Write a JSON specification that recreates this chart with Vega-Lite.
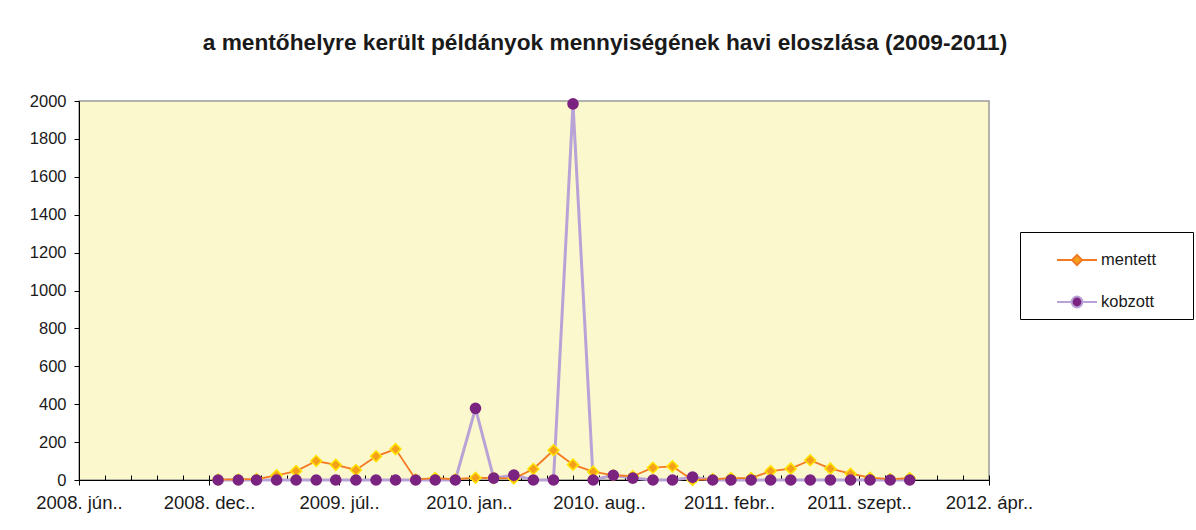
{
  "$schema": "https://vega.github.io/schema/vega-lite/v6.json",
  "width": 910,
  "height": 379,
  "autosize": {"type": "none"},
  "padding": {"left": 79, "top": 101, "right": 207, "bottom": 50},
  "background": "white",
  "view": {"fill": "#FBF8CE", "stroke": "#9a9a9a", "strokeWidth": 1.5},
  "title": {
    "text": "a mentőhelyre került példányok mennyiségének havi eloszlása (2009-2011)",
    "font": "Liberation Sans",
    "fontSize": 22.7,
    "fontWeight": "bold",
    "color": "#1a1a1a",
    "anchor": "middle",
    "dx": 71,
    "offset": 38
  },
  "data": {
    "values": [
      {"date": "2009-01-01", "mentett": 2, "kobzott": 0},
      {"date": "2009-02-01", "mentett": 3, "kobzott": 0},
      {"date": "2009-03-01", "mentett": 5, "kobzott": 0},
      {"date": "2009-04-01", "mentett": 25, "kobzott": 0},
      {"date": "2009-05-01", "mentett": 47, "kobzott": 0},
      {"date": "2009-06-01", "mentett": 100, "kobzott": 0},
      {"date": "2009-07-01", "mentett": 80, "kobzott": 0},
      {"date": "2009-08-01", "mentett": 53, "kobzott": 0},
      {"date": "2009-09-01", "mentett": 125, "kobzott": 0},
      {"date": "2009-10-01", "mentett": 163, "kobzott": 0},
      {"date": "2009-11-01", "mentett": 3, "kobzott": 0},
      {"date": "2009-12-01", "mentett": 10, "kobzott": 0},
      {"date": "2010-01-01", "mentett": 4, "kobzott": 0},
      {"date": "2010-02-01", "mentett": 12, "kobzott": 378},
      {"date": "2010-03-01", "mentett": 10, "kobzott": 10},
      {"date": "2010-04-01", "mentett": 8, "kobzott": 26},
      {"date": "2010-05-01", "mentett": 58, "kobzott": 0},
      {"date": "2010-06-01", "mentett": 157, "kobzott": 0},
      {"date": "2010-07-01", "mentett": 81, "kobzott": 1985},
      {"date": "2010-08-01", "mentett": 44, "kobzott": 0},
      {"date": "2010-09-01", "mentett": 25, "kobzott": 25},
      {"date": "2010-10-01", "mentett": 20, "kobzott": 10},
      {"date": "2010-11-01", "mentett": 65, "kobzott": 0},
      {"date": "2010-12-01", "mentett": 72, "kobzott": 0},
      {"date": "2011-01-01", "mentett": 0, "kobzott": 15},
      {"date": "2011-02-01", "mentett": 5, "kobzott": 0},
      {"date": "2011-03-01", "mentett": 10, "kobzott": 0},
      {"date": "2011-04-01", "mentett": 10, "kobzott": 0},
      {"date": "2011-05-01", "mentett": 47, "kobzott": 0},
      {"date": "2011-06-01", "mentett": 60, "kobzott": 0},
      {"date": "2011-07-01", "mentett": 104, "kobzott": 0},
      {"date": "2011-08-01", "mentett": 60, "kobzott": 0},
      {"date": "2011-09-01", "mentett": 33, "kobzott": 0},
      {"date": "2011-10-01", "mentett": 12, "kobzott": 0},
      {"date": "2011-11-01", "mentett": 5, "kobzott": 0},
      {"date": "2011-12-01", "mentett": 10, "kobzott": 0}
    ]
  },
  "layer": [
    {
      "mark": {"type": "line", "color": "#B9A2D6", "strokeWidth": 3},
      "encoding": {
        "x": {
          "field": "date",
          "type": "temporal",
          "scale": {
            "type": "utc",
            "domain": [
              {"year": 2008, "month": 6, "date": 1, "utc": true},
              {"year": 2012, "month": 4, "date": 1, "utc": true}
            ]
          },
          "axis": {
            "orient": "bottom",
            "values": [1212278400000, 1229558400000, 1246838400000, 1264118400000, 1281398400000, 1298678400000, 1315958400000, 1333238400000],
            "labelExpr": "utcyear(datum.value) + '. ' + ['jan','febr','márc','ápr','máj','jún','júl','aug','szept','okt','nov','dec'][utcmonth(datum.value)] + '..'",
            "title": null,
            "grid": false,
            "domainColor": "#000000",
            "domainWidth": 1,
            "tickColor": "#000000",
            "tickSize": 5,
            "labelFontSize": 18.5,
            "labelPadding": 8,
            "labelColor": "#1a1a1a",
            "labelFlush": false,
            "labelOverlap": false
          }
        },
        "y": {
          "field": "kobzott",
          "type": "quantitative",
          "scale": {"domain": [0, 2000], "nice": false},
          "axis": {
            "values": [0, 200, 400, 600, 800, 1000, 1200, 1400, 1600, 1800, 2000],
            "format": "d",
            "labelOverlap": false,
            "title": null,
            "grid": false,
            "domainColor": "#000000",
            "tickColor": "#000000",
            "tickSize": 5,
            "labelFontSize": 16.5,
            "labelPadding": 8,
            "labelColor": "#1a1a1a"
          }
        }
      }
    },
    {
      "mark": {"type": "line", "color": "#F47A22", "strokeWidth": 1.8},
      "encoding": {
        "x": {
          "field": "date",
          "type": "temporal",
          "axis": {
            "orient": "bottom",
            "values": [1212278400000, 1215734400000, 1219190400000, 1222646400000, 1226102400000, 1229558400000, 1233014400000, 1236470400000, 1239926400000, 1243382400000, 1246838400000, 1250294400000, 1253750400000, 1257206400000, 1260662400000, 1264118400000, 1267574400000, 1271030400000, 1274486400000, 1277942400000, 1281398400000, 1284854400000, 1288310400000, 1291766400000, 1295222400000, 1298678400000, 1302134400000, 1305590400000, 1309046400000, 1312502400000, 1315958400000, 1319414400000, 1322870400000, 1326326400000, 1329782400000, 1333238400000],
            "labels": false,
            "domain": false,
            "grid": false,
            "title": null,
            "tickColor": "#000000",
            "tickSize": -5
          }
        },
        "y": {
          "field": "mentett",
          "type": "quantitative",
          "axis": {
            "values": [0, 200, 400, 600, 800, 1000, 1200, 1400, 1600, 1800, 2000],
            "format": "d",
            "labelOverlap": false,
            "title": null,
            "grid": false,
            "domainColor": "#000000",
            "tickColor": "#000000",
            "tickSize": 5,
            "labelFontSize": 16.5,
            "labelPadding": 8,
            "labelColor": "#1a1a1a"
          }
        }
      }
    },
    {
      "mark": {"type": "point", "shape": "diamond", "filled": true, "fill": "#F5A01B", "stroke": "#FFE400", "strokeWidth": 1.5, "size": 120, "opacity": 1},
      "encoding": {
        "x": {"field": "date", "type": "temporal", "axis": null},
        "y": {
          "field": "mentett",
          "type": "quantitative",
          "axis": {
            "values": [0, 200, 400, 600, 800, 1000, 1200, 1400, 1600, 1800, 2000],
            "format": "d",
            "labelOverlap": false,
            "title": null,
            "grid": false,
            "domainColor": "#000000",
            "tickColor": "#000000",
            "tickSize": 5,
            "labelFontSize": 16.5,
            "labelPadding": 8,
            "labelColor": "#1a1a1a"
          }
        }
      }
    },
    {
      "mark": {"type": "point", "shape": "circle", "filled": true, "fill": "#7B2381", "size": 135, "opacity": 1},
      "encoding": {
        "x": {"field": "date", "type": "temporal", "axis": null},
        "y": {
          "field": "kobzott",
          "type": "quantitative",
          "axis": {
            "values": [0, 200, 400, 600, 800, 1000, 1200, 1400, 1600, 1800, 2000],
            "format": "d",
            "labelOverlap": false,
            "title": null,
            "grid": false,
            "domainColor": "#000000",
            "tickColor": "#000000",
            "tickSize": 5,
            "labelFontSize": 16.5,
            "labelPadding": 8,
            "labelColor": "#1a1a1a"
          }
        }
      }
    },
    {
      "transform": [{"filter": "false"}, {"calculate": "'mentett'", "as": "series"}],
      "mark": {"type": "point", "filled": true, "opacity": 1},
      "encoding": {
        "fill": {
          "field": "series",
          "type": "nominal",
          "scale": {"domain": ["mentett", "kobzott"], "range": ["#F5A01B", "#7B2381"]},
          "legend": {"title": "\u00a0", "titleOrient": "right", "titlePadding": 30}
        },
        "stroke": {
          "field": "series",
          "type": "nominal",
          "scale": {"domain": ["mentett", "kobzott"], "range": ["#F47A22", "#B9A2D6"]},
          "legend": {"title": "\u00a0", "titleOrient": "right", "titlePadding": 30}
        },
        "shape": {
          "field": "series",
          "type": "nominal",
          "scale": {
            "domain": ["mentett", "kobzott"],
            "range": [
              "M-1,0L-0.25,0M0.25,0L1,0M0,-0.25L0.25,0L0,0.25L-0.25,0Z",
              "M-1,0L-0.27,0M0.27,0L1,0M-0.27,0A0.27,0.27 0 1,1 0.27,0A0.27,0.27 0 1,1 -0.27,0Z"
            ]
          },
          "legend": {"title": "\u00a0", "titleOrient": "right", "titlePadding": 30}
        }
      }
    }
  ],
  "resolve": {"axis": {"x": "independent"}},
  "config": {
    "font": "Liberation Sans",
    "axis": {"labelFont": "Liberation Sans"},
    "legend": {
      "orient": "none",
      "legendX": 941,
      "legendY": 131,
      "strokeColor": "#000000",
      "strokeWidth": 1,
      "fillColor": "#ffffff",
      "padding": 7,
      "symbolOffset": 29,
      "symbolSize": 1600,
      "symbolStrokeWidth": 2,
      "labelFont": "Liberation Sans",
      "labelFontSize": 16.5,
      "labelColor": "#1a1a1a",
      "labelOffset": 3,
      "rowPadding": 12,
      "titleFontSize": 16.5
    }
  }
}
